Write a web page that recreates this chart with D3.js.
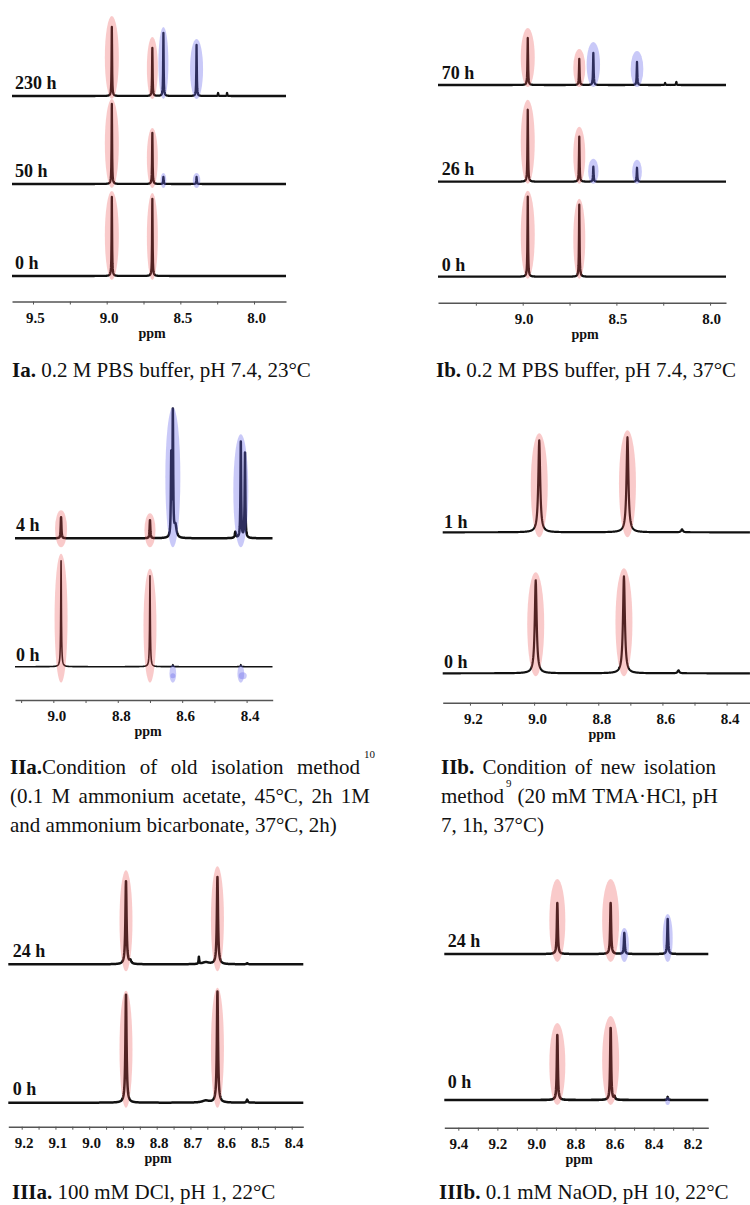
<!DOCTYPE html>
<html>
<head>
<meta charset="utf-8">
<script src="https://cdn.jsdelivr.net/npm/d3@7"></script>
<style>
body { margin: 0; background: #fff; }
svg { display: block; font-family: "Liberation Serif", "Times New Roman", serif; }
</style>
</head>
<body>
<svg id="fig" width="750" height="1205"></svg>
<script>
// ---------- data (ppm, peak heights in px-like units) ----------

// Ia. PBS, 23 C
var iaTimes = ["230 h", "50 h", "0 h"];
var iaPpm = [8.965, 8.69, 8.615, 8.39, 8.244, 8.183];
var iaHue = ["r", "r", "b", "b", "", ""];
var iaWidth = [0.002, 0.002, 0.002, 0.002, 0.002, 0.002];
var iaHeights = [
	[69, 48, 63, 51, 3, 3],
	[80, 51, 7, 7, 0, 0],
	[79, 77, 0, 0, 0, 0]
];
var iaTicks = [9.5, 9.25, 9.0, 8.75, 8.5, 8.25, 8.0];
var iaLabels = [9.5, 9.0, 8.5, 8.0];

// Ib. PBS, 37 C
var ibTimes = ["70 h", "26 h", "0 h"];
var ibPpm = [8.973, 8.698, 8.623, 8.39, 8.24, 8.18];
var ibHue = ["r", "r", "b", "b", "", ""];
var ibWidth = [0.0018, 0.0018, 0.0018, 0.0018, 0.002, 0.002];
var ibHeights = [
	[47, 26, 32, 23, 2, 3],
	[72, 45, 15, 14, 0, 0],
	[80, 72, 0, 0, 0, 0]
];
var ibTicks = [9.25, 9.0, 8.75, 8.5, 8.25, 8.0];
var ibLabels = [9.0, 8.5, 8.0];

// IIa. old isolation method
var iiaTimes = ["4 h", "0 h"];
var iiaPpm = [8.976, 8.70, 8.629, 8.634, 8.621, 8.418, 8.405, 8.435];
var iiaHue = ["r", "r", "b", "", "", "b", "", ""];
var iiaWidth = [0.0012, 0.0012, 0.0012, 0.0012, 0.004, 0.0012, 0.0012, 0.002];
var iiaHeights = [
	[21, 18, 123, 80, 12, 96, 85, 6],
	[106, 91, 2, 0, 0, 2, 0, 0]
];
var iiaDots = [8.629, 8.412];
var iiaTicks = [9.1, 9.0, 8.9, 8.8, 8.7, 8.6, 8.5, 8.4];
var iiaLabels = [9.0, 8.8, 8.6, 8.4];

// IIb. new isolation method
var iibTimes = ["1 h", "0 h"];
var iibPpm = [8.995, 8.72, 8.55];
var iibShift = [-0.011, 0];
var iibHue = ["r", "r", ""];
var iibWidth = [0.0035, 0.0035, 0.003];
var iibHeights = [
	[92, 95, 3],
	[93, 97, 3]
];
var iibTicks = [9.2, 9.1, 9.0, 8.9, 8.8, 8.7, 8.6, 8.5, 8.4];
var iibLabels = [9.2, 9.0, 8.8, 8.6, 8.4];

// IIIa. DCl, pH 1
var iiiaTimes = ["24 h", "0 h"];
var iiiaPpm = [8.891, 8.62, 8.675, 8.532, 8.655, 8.878];
var iiiaHue = ["r", "r", "", "", "", ""];
var iiiaWidth = [0.002, 0.002, 0.001, 0.002, 0.012, 0.003];
var iiiaHeights = [
	[83, 87, 7, 1, 2, 3],
	[108, 111, 0, 3, 2, 0]
];
var iiiaTicks = [9.2, 9.15, 9.1, 9.05, 9.0, 8.95, 8.9, 8.85, 8.8, 8.75, 8.7, 8.65, 8.6, 8.55, 8.5, 8.45, 8.4];
var iiiaLabels = [9.2, 9.1, 9.0, 8.9, 8.8, 8.7, 8.6, 8.5, 8.4];

// IIIb. NaOD, pH 10
var iiibTimes = ["24 h", "0 h"];
var iiibPpm = [8.893, 8.62, 8.55, 8.328, 8.60];
var iiibHue = ["r", "r", "b", "b", ""];
var iiibWidth = [0.0028, 0.0028, 0.0025, 0.0025, 0.003];
var iiibHeights = [
	[51, 51, 21, 35, 0],
	[65, 72, 0, 3, 3]
];
var iiibTicks = [9.4, 9.3, 9.2, 9.1, 9.0, 8.9, 8.8, 8.7, 8.6, 8.5, 8.4, 8.3, 8.2];
var iiibLabels = [9.4, 9.2, 9.0, 8.8, 8.6, 8.4, 8.2];

// ---------- layout ----------
var panels = [
	{ times: iaTimes, ppm: iaPpm, hue: iaHue, width: iaWidth, heights: iaHeights, ticks: iaTicks, labels: iaLabels,
	  x0: 12, x1: 286, dom: [9.6425, 7.783], axisY: 301.5, ppmX: 152, labelDx: 2,
	  bases: [96, 184, 276], labelX: 15, labelY: [89, 177, 269], stroke: [2.3, 2.3, 2.3],
	  rx: [7, 5.5, 5, 6.5, 0, 0], padTop: { r: [11, 5, 6], b: [6, 4, 0] }, padBot: [3, 4, 4] },
	{ times: ibTimes, ppm: ibPpm, hue: ibHue, width: ibWidth, heights: ibHeights, ticks: ibTicks, labels: ibLabels,
	  x0: 438, x1: 726, dom: [9.452, 7.915], axisY: 302.7, ppmX: 585, labelDx: 1,
	  bases: [85, 181.7, 276.7], labelX: 441.7, labelY: [79, 175, 271], stroke: [2.3, 2.3, 2.3],
	  rx: [7, 6, 6.7, 6.5, 0, 0], padTop: { r: [10, 10, 6], b: [11, 8, 0] }, padBot: [2, 2, 2] },
	{ times: iiaTimes, ppm: iiaPpm, hue: iiaHue, width: iiaWidth, heights: iiaHeights, ticks: iiaTicks, labels: iiaLabels,
	  x0: 15, x1: 272.7, dom: [9.119, 8.319], axisY: 700, ppmX: 148, labelDx: 3,
	  bases: [538.3, 666.7], labelX: 16, labelY: [531, 661], stroke: [2.5, 1.6],
	  rx: [6.5, 6.5, 7.5, 0, 0, 7.5, 0, 0], padTop: { r: [7, 7], b: [8, 0] }, padBot: [9, 16] },
	{ times: iibTimes, ppm: iibPpm, shift: iibShift, hue: iibHue, width: iibWidth, heights: iibHeights, ticks: iibTicks, labels: iibLabels,
	  x0: 442.7, x1: 750, dom: [9.285, 8.327], axisY: 702.7, ppmX: 602, labelDx: 3,
	  bases: [532.3, 673.3], labelX: 444, labelY: [528, 668], stroke: [2.2, 2.2],
	  rx: [8.5, 8.5, 0], padTop: { r: [7, 8], b: [0, 0] }, padBot: [5, 3] },
	{ times: iiiaTimes, ppm: iiiaPpm, hue: iiiaHue, width: iiiaWidth, heights: iiiaHeights, ticks: iiiaTicks, labels: iiiaLabels,
	  x0: 8.3, x1: 303.3, dom: [9.2397, 8.3656], axisY: 1126.7, ppmX: 158, labelDx: 2,
	  bases: [964.3, 1102.7], labelX: 12.7, labelY: [957, 1095], stroke: [2.5, 2.5],
	  rx: [6.5, 6.5, 0, 0, 0, 0], padTop: { r: [11, 4], b: [0, 0] }, padBot: [7, 5] },
	{ times: iiibTimes, ppm: iiibPpm, hue: iiibHue, width: iiibWidth, heights: iiibHeights, ticks: iiibTicks, labels: iiibLabels,
	  x0: 444.3, x1: 708.3, dom: [9.4717, 8.12], axisY: 1127.7, ppmX: 579, labelDx: 0,
	  bases: [954, 1100], labelX: 447.7, labelY: [947, 1088], stroke: [2.5, 2.6],
	  rx: [8, 8.5, 5, 5, 0], padTop: { r: [24, 12], b: [5, 0] }, padBot: [8, 5] }
];

var svg = d3.select("#fig");
var FONT = "Liberation Serif, Times New Roman, serif";

panels.forEach(function(P, pi) {
	var x = d3.scaleLinear().domain(P.dom).range([P.x0, P.x1]);
	var g = svg.append("g").attr("class", "panel" + pi);

	var grid = d3.range(P.x0, P.x1 + 0.01, 0.25).map(function(px) { return x.invert(px); });

	P.heights.forEach(function(hs, t) {
		var base = P.bases[t];
		var sh = P.shift ? P.shift[t] : 0;
		var centers = P.ppm.map(function(c) { return c + sh; });
		var pts = grid.concat(centers.filter(function(c) {
			return c < P.dom[0] && c > P.dom[1];
		})).sort(d3.descending);

		var y = d3.scaleLinear().domain([0, 100]).range([base, base - 100]);

		var data = pts.map(function(p) {
			var v = 0;
			centers.forEach(function(c, i) {
				var w = P.width[i], d = p - c;
				v += hs[i] * w * w / (d * d + w * w);
			});
			return { p: p, v: v };
		});

		var line = d3.line()
			.x(function(d) { return x(d.p); })
			.y(function(d) { return y(d.v); });

		g.append("path")
			.datum(data)
			.attr("d", line)
			.attr("fill", "none")
			.attr("stroke", "#111")
			.attr("stroke-width", P.stroke[t])
			.attr("stroke-linejoin", "round");

		// highlight ellipses, drawn over the trace
		centers.forEach(function(c, i) {
			var hue = P.hue[i], h = hs[i];
			if (!hue || h < 1) return;
			var f = Math.min(1, 0.4 + h / 40);
			var top = y(h) - P.padTop[hue][t];
			var bot = base + P.padBot[t];
			g.append("ellipse")
				.attr("cx", x(c))
				.attr("cy", (top + bot) / 2)
				.attr("rx", P.rx[i] * f)
				.attr("ry", (bot - top) / 2)
				.attr("fill", hue == "r" ? "rgb(235,80,80)" : "rgb(100,100,235)")
				.attr("fill-opacity", hue == "r" ? 0.3 : 0.35);
		});

		g.append("text")
			.attr("x", P.labelX)
			.attr("y", P.labelY[t])
			.attr("font-size", 18)
			.attr("font-weight", "bold")
			.attr("fill", "#111")
			.text(P.times[t]);
	});

	var axis = d3.axisBottom(x)
		.tickValues(P.ticks)
		.tickSize(3)
		.tickSizeOuter(0)
		.tickFormat(function(d) {
			var lab = P.labels.some(function(l) { return Math.abs(l - d) < 1e-6; });
			return lab ? d3.format(".1f")(d) : "";
		});

	var ag = g.append("g")
		.attr("transform", "translate(0," + P.axisY + ")")
		.call(axis);
	ag.select(".domain").attr("stroke", "#555").attr("stroke-width", 1.5);
	ag.selectAll(".tick line").attr("stroke", "#555");
	ag.selectAll(".tick text")
		.attr("font-family", FONT)
		.attr("font-size", 15)
		.attr("font-weight", "bold")
		.attr("fill", "#111")
		.attr("y", 21)
		.attr("dy", 0)
		.attr("dx", P.labelDx);

	g.append("text")
		.attr("x", P.ppmX)
		.attr("y", P.axisY + 36)
		.attr("text-anchor", "middle")
		.attr("font-size", 14)
		.attr("font-weight", "bold")
		.attr("fill", "#111")
		.text("ppm");

	// tiny blue marks under the IIa 0 h trace
	if (P.times === iiaTimes) {
		iiaDots.forEach(function(c, k) {
			g.append("ellipse")
				.attr("cx", x(c))
				.attr("cy", P.bases[1] + 9)
				.attr("rx", k == 0 ? 2.5 : 4)
				.attr("ry", k == 0 ? 2.5 : 3.5)
				.attr("fill", "rgb(100,100,235)")
				.attr("fill-opacity", 0.35);
		});
	}
});

// ---------- captions ----------
function caption(x, y, parts, target) {
	var t = svg.append("text")
		.attr("x", x)
		.attr("y", y)
		.attr("font-size", 21)
		.attr("fill", "#111");
	parts.forEach(function(p) {
		var s = t.append("tspan").text(p.s);
		if (p.b) s.attr("font-weight", "bold");
		if (p.sup) s.attr("font-size", 11);
		if (p.dy) s.attr("dy", p.dy);
		if (p.dx) s.attr("dx", p.dx);
	});
	if (target) {
		var len = t.node().getComputedTextLength();
		var n = (t.text().match(/ /g) || []).length;
		if (n) t.attr("word-spacing", (target - len) / n);
	}
}

caption(12, 377, [{ s: "Ia.", b: 1 }, { s: " 0.2 M PBS buffer, pH 7.4, 23°C" }]);
caption(436, 377, [{ s: "Ib.", b: 1 }, { s: " 0.2 M PBS buffer, pH 7.4, 37°C" }]);

caption(10, 774, [{ s: "IIa.", b: 1 }, { s: "Condition of old isolation method" }, { s: "10", sup: 1, dy: -16, dx: 4 }], 361);
caption(10, 803, [{ s: "(0.1 M ammonium acetate, 45°C, 2h 1M" }], 360);
caption(10, 832, [{ s: "and ammonium bicarbonate, 37°C, 2h)" }]);

caption(441, 774, [{ s: "IIb.", b: 1 }, { s: " Condition of new isolation" }], 275);
caption(441, 803, [{ s: "method" }, { s: "9", sup: 1, dy: -16, dx: 2 }, { s: " (20 mM TMA·HCl, pH", dy: 16 }], 275);
caption(441, 832, [{ s: "7, 1h, 37°C)" }]);

caption(12, 1199, [{ s: "IIIa.", b: 1 }, { s: " 100 mM DCl, pH 1, 22°C" }]);
caption(439, 1199, [{ s: "IIIb.", b: 1 }, { s: " 0.1 mM NaOD, pH 10, 22°C" }]);
</script>
</body>
</html>
